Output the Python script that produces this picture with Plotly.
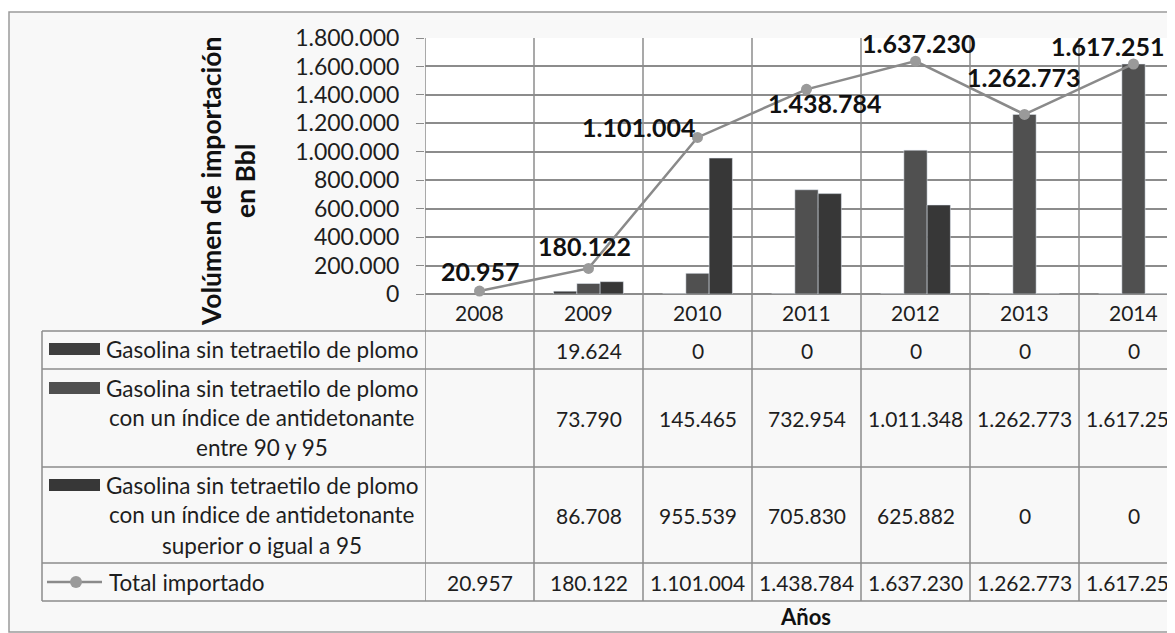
import plotly.graph_objects as go

# ---------------- data ----------------
years = ["2008", "2009", "2010", "2011", "2012", "2013", "2014"]
s1_name = "Gasolina sin tetraetilo de plomo"
s2_name = "Gasolina sin tetraetilo de plomo<br>con un índice de antidetonante<br>entre 90 y 95"
s3_name = "Gasolina sin tetraetilo de plomo<br>con un índice de antidetonante<br>superior o igual a 95"
total_name = "Total importado"
s1_values = [None, 19624, 0, 0, 0, 0, 0]
s2_values = [None, 73790, 145465, 732954, 1011348, 1262773, 1617251]
s3_values = [None, 86708, 955539, 705830, 625882, 0, 0]
total_values = [20957, 180122, 1101004, 1438784, 1637230, 1262773, 1617251]
y_title = "Volúmen de importación<br>en Bbl"
x_title = "Años"

# ---------------- styles / geometry ----------------
FONT = "Lato, Carlito, Calibri, sans-serif"
OFF = 8                      # page body margin of the exported html
W, H = 1175 - OFF, 633 - OFF  # figure size
PL, PT, PB = 425, 38, 294     # plot edges in page pixels
PW, PH = 1175 - PL, PB - PT
CAT_W = 109.0
x_hi = (1175 - PL) / CAT_W - 0.5

c_s1, c_s2, c_s3 = "#3e3e3e", "#505050", "#373737"
c_line, c_marker = "#8a8a8a", "#9a9a9a"
grid_c = "#8c8c8c"
txt_c = "#1e1e1e"

# label offsets (px) for the total labels
lbl_dx = [0, -4, -59, 18, 3, -1, -26]
lbl_dy = [20, 22, 10, -14, 18, 37, 18]

row_bounds = [331, 369, 467, 563, 601]
row_line_y = [[349], [388, 417, 447], [485, 514, 545], [582]]


def px(x):
    return (x - PL) / PW


def py(y):
    return (PB - y) / PH


def fmt(v):
    if v is None:
        return ""
    return f"{v:,}".replace(",", ".")


fig = go.Figure()
fig.add_trace(go.Bar(x=years, y=s1_values, name=s1_name, marker_color=c_s1))
fig.add_trace(go.Bar(x=years, y=s2_values, name=s2_name, marker_color=c_s2))
fig.add_trace(go.Bar(x=years, y=s3_values, name=s3_name, marker_color=c_s3))
fig.add_trace(go.Scatter(x=years, y=total_values, name=total_name, mode="lines+markers",
                         line=dict(color=c_line, width=2.5),
                         marker=dict(color=c_marker, size=11), cliponaxis=False))

shapes = []
# outer frame
shapes.append(dict(type="rect", xref="paper", yref="paper", x0=px(9), x1=px(1185),
                   y0=py(632), y1=py(12), fillcolor="#f8f8f8",
                   line=dict(color="#9a9a9a", width=1.5), layer="below"))
# plot area white
shapes.append(dict(type="rect", xref="paper", yref="paper", x0=0, x1=1, y0=0, y1=1,
                   fillcolor="#ffffff", line=dict(width=0), layer="below"))
# vertical lines (plot + table)
for i in range(len(years)):
    shapes.append(dict(type="line", xref="x", yref="paper", x0=i - 0.5, x1=i - 0.5,
                       y0=py(row_bounds[-1]), y1=1, line=dict(color=grid_c, width=1.5)))
shapes.append(dict(type="line", xref="paper", yref="paper", x0=px(42), x1=px(42),
                   y0=py(row_bounds[-1]), y1=py(row_bounds[0]), line=dict(color=grid_c, width=1.5)))
# horizontal table lines
for yb in row_bounds:
    shapes.append(dict(type="line", xref="paper", yref="paper", x0=px(42), x1=px(1185),
                       y0=py(yb), y1=py(yb), line=dict(color=grid_c, width=1.5)))
# legend keys
for color, yk in [(c_s1, 349), (c_s2, 388), (c_s3, 485)]:
    shapes.append(dict(type="rect", xref="paper", yref="paper", x0=px(49), x1=px(100),
                       y0=py(yk + 6), y1=py(yk - 6), fillcolor=color, line=dict(width=0)))
shapes.append(dict(type="line", xref="paper", yref="paper", x0=px(47), x1=px(102),
                   y0=py(582), y1=py(582), line=dict(color=c_line, width=2.5)))
shapes.append(dict(type="circle", xref="paper", yref="paper", x0=px(70), x1=px(82),
                   y0=py(588), y1=py(576), fillcolor=c_marker, line=dict(width=0)))

ann = []
# total labels
for i, v in enumerate(total_values):
    ann.append(dict(x=i, y=v, xref="x", yref="y", text=fmt(v), showarrow=False,
                    xanchor="center", yanchor="middle",
                    xshift=lbl_dx[i], yshift=lbl_dy[i],
                    font=dict(family=FONT, size=25, color="#111111", weight="bold")))
# year header
for i, yr in enumerate(years):
    ann.append(dict(x=i, y=py(312), xref="x", yref="paper", text=yr, showarrow=False,
                    xanchor="center", yanchor="middle",
                    font=dict(family=FONT, size=21, color=txt_c)))
# table rows
series_rows = [(s1_name, s1_values), (s2_name, s2_values), (s3_name, s3_values),
               (total_name, total_values)]
for r, (name, vals) in enumerate(series_rows):
    lines = name.split("<br>")
    for k, line in enumerate(lines):
        if r == 3:
            ann.append(dict(x=px(107), y=py(row_line_y[r][k]), xref="paper", yref="paper",
                            text=line, showarrow=False, xanchor="left", yanchor="middle",
                            font=dict(family=FONT, size=22.5, color=txt_c)))
        else:
            ann.append(dict(x=px(262), y=py(row_line_y[r][k]), xref="paper", yref="paper",
                            text=line, showarrow=False, xanchor="center", yanchor="middle",
                            font=dict(family=FONT, size=22.5, color=txt_c)))
    mid = (row_bounds[r] + row_bounds[r + 1]) / 2
    for i, v in enumerate(vals):
        ann.append(dict(x=i, y=py(mid), xref="x", yref="paper", text=fmt(v), showarrow=False,
                        xanchor="center", yanchor="middle",
                        font=dict(family=FONT, size=21, color=txt_c)))
# axis titles
ann.append(dict(x=px(228), y=py(182), xref="paper", yref="paper", text=y_title, textangle=-90,
                showarrow=False, xanchor="center", yanchor="middle",
                font=dict(family=FONT, size=26.5, color="#111111", weight="bold")))
ann.append(dict(x=px(805), y=py(616), xref="paper", yref="paper", text=x_title,
                showarrow=False, xanchor="center", yanchor="middle",
                font=dict(family=FONT, size=22, color="#111111", weight="bold")))

fig.update_layout(
    width=W, height=H,
    margin=dict(l=PL - OFF, r=0, t=PT - OFF, b=H - (PB - OFF), pad=0),
    paper_bgcolor="#ffffff", plot_bgcolor="rgba(0,0,0,0)",
    separators=",.",
    barmode="group", bargap=0.36, bargroupgap=0,
    showlegend=False,
    shapes=shapes, annotations=ann,
    font=dict(family=FONT, color=txt_c),
)
fig.update_xaxes(type="category", range=[-0.5, x_hi], showticklabels=False, showgrid=False,
                 zeroline=False, showline=False, ticks="", fixedrange=True)
fig.update_yaxes(range=[0, 1800000], dtick=200000, tickformat=",d", showgrid=True,
                 gridcolor=grid_c, gridwidth=1.5, zeroline=True, zerolinecolor=grid_c,
                 zerolinewidth=1.5, ticks="outside", ticklen=8, tickcolor=grid_c,
                 ticklabelstandoff=12,
                 tickfont=dict(family=FONT, size=23, color=txt_c), showline=False)

fig.write_html("out.html")
